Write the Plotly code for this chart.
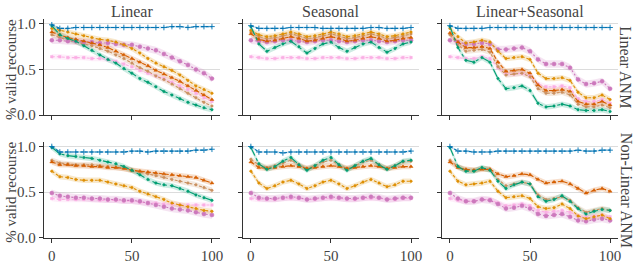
import plotly.graph_objects as go

x = [0, 5, 10, 15, 20, 25, 30, 35, 40, 45, 50, 55, 60, 65, 70, 75, 80, 85, 90, 95, 100]

col_titles = ["Linear", "Seasonal", "Linear+Seasonal"]
row_titles = ["Linear ANM", "Non-Linear ANM"]
y_ticks = [0.0, 0.5, 1.0]
y_ticktext = ["0.0", "0.5", "1.0"]
x_ticks = [0, 50, 100]

# ---- Row 1: Linear ANM ----
lin_blue = [0.99,0.95,0.95,0.96,0.96,0.96,0.96,0.96,0.96,0.96,0.96,0.96,0.96,0.96,0.96,0.97,0.97,0.96,0.97,0.97,0.97]
lin_orange = [0.95,0.93,0.91,0.89,0.87,0.85,0.83,0.82,0.80,0.77,0.73,0.68,0.62,0.57,0.53,0.49,0.44,0.38,0.32,0.28,0.24]
lin_verm = [0.91,0.88,0.85,0.83,0.81,0.79,0.77,0.74,0.70,0.66,0.62,0.58,0.54,0.49,0.45,0.41,0.37,0.32,0.27,0.22,0.17]
lin_brown = [0.88,0.85,0.82,0.80,0.78,0.76,0.73,0.70,0.66,0.62,0.57,0.52,0.48,0.43,0.39,0.34,0.29,0.24,0.19,0.14,0.10]
lin_pink = [0.64,0.64,0.63,0.63,0.63,0.62,0.62,0.61,0.59,0.56,0.53,0.49,0.46,0.43,0.40,0.36,0.32,0.28,0.24,0.19,0.15]
lin_green = [0.98,0.88,0.84,0.81,0.76,0.71,0.66,0.61,0.57,0.51,0.46,0.40,0.36,0.31,0.26,0.22,0.18,0.14,0.11,0.08,0.06]
lin_purple = [0.82,0.82,0.81,0.81,0.80,0.80,0.79,0.79,0.78,0.77,0.77,0.75,0.73,0.71,0.67,0.63,0.59,0.55,0.50,0.46,0.40]

sea_blue = [0.98,0.95,0.95,0.95,0.95,0.96,0.96,0.96,0.96,0.95,0.95,0.95,0.95,0.95,0.95,0.96,0.96,0.95,0.95,0.95,0.96]
sea_orange = [0.93,0.88,0.86,0.87,0.89,0.91,0.89,0.86,0.87,0.89,0.91,0.89,0.86,0.87,0.89,0.91,0.89,0.86,0.87,0.89,0.91]
sea_brown = [0.91,0.86,0.84,0.85,0.87,0.89,0.87,0.84,0.85,0.87,0.89,0.87,0.84,0.85,0.87,0.89,0.87,0.84,0.85,0.87,0.89]
sea_verm = [0.89,0.83,0.81,0.82,0.84,0.86,0.84,0.81,0.82,0.84,0.86,0.84,0.81,0.82,0.84,0.86,0.84,0.81,0.82,0.84,0.85]
sea_purple = [0.82,0.81,0.80,0.81,0.82,0.82,0.81,0.80,0.81,0.82,0.82,0.81,0.80,0.81,0.82,0.82,0.81,0.80,0.81,0.82,0.82]
sea_pink = [0.64,0.63,0.62,0.62,0.63,0.63,0.63,0.62,0.62,0.63,0.63,0.63,0.62,0.62,0.63,0.63,0.63,0.62,0.62,0.63,0.63]
sea_green = [0.97,0.78,0.70,0.74,0.78,0.81,0.75,0.68,0.73,0.78,0.80,0.74,0.70,0.74,0.78,0.80,0.74,0.69,0.73,0.78,0.80]

ls_blue = [0.98,0.95,0.95,0.95,0.95,0.96,0.96,0.96,0.96,0.96,0.96,0.96,0.96,0.96,0.96,0.96,0.96,0.96,0.96,0.96,0.96]
ls_orange = [0.95,0.86,0.79,0.80,0.82,0.80,0.70,0.62,0.63,0.64,0.61,0.46,0.40,0.40,0.41,0.38,0.25,0.19,0.19,0.22,0.17]
ls_purple = [0.82,0.80,0.78,0.78,0.79,0.78,0.72,0.72,0.73,0.74,0.70,0.61,0.56,0.56,0.56,0.52,0.39,0.34,0.35,0.37,0.29]
ls_verm = [0.90,0.80,0.74,0.74,0.75,0.73,0.58,0.48,0.49,0.50,0.46,0.33,0.27,0.27,0.28,0.26,0.15,0.12,0.12,0.15,0.11]
ls_brown = [0.88,0.77,0.70,0.71,0.72,0.69,0.53,0.44,0.45,0.46,0.42,0.29,0.24,0.24,0.25,0.22,0.12,0.09,0.09,0.11,0.08]
ls_pink = [0.64,0.63,0.62,0.62,0.64,0.62,0.52,0.45,0.45,0.46,0.43,0.34,0.31,0.31,0.32,0.30,0.18,0.15,0.15,0.17,0.13]
ls_green = [0.97,0.74,0.60,0.58,0.63,0.58,0.40,0.29,0.30,0.32,0.27,0.13,0.09,0.10,0.12,0.10,0.06,0.05,0.05,0.06,0.04]

# ---- Row 2: Non-Linear ANM ----
nlin_blue = [1.00,0.94,0.94,0.94,0.94,0.94,0.94,0.94,0.94,0.94,0.95,0.95,0.94,0.95,0.95,0.95,0.95,0.95,0.96,0.96,0.97]
nlin_green = [0.99,0.92,0.90,0.89,0.88,0.87,0.85,0.83,0.81,0.78,0.74,0.69,0.64,0.60,0.58,0.57,0.54,0.51,0.47,0.44,0.41]
nlin_verm = [0.83,0.80,0.80,0.79,0.79,0.78,0.78,0.77,0.77,0.76,0.74,0.73,0.72,0.71,0.70,0.69,0.68,0.67,0.66,0.63,0.60]
nlin_brown = [0.85,0.82,0.81,0.80,0.80,0.80,0.79,0.78,0.77,0.76,0.74,0.72,0.70,0.68,0.66,0.64,0.62,0.60,0.58,0.55,0.52]
nlin_orange = [0.73,0.67,0.66,0.64,0.63,0.63,0.63,0.61,0.59,0.57,0.55,0.51,0.48,0.45,0.42,0.38,0.36,0.34,0.32,0.30,0.29]
nlin_purple = [0.49,0.46,0.45,0.44,0.44,0.43,0.43,0.42,0.42,0.41,0.41,0.40,0.38,0.36,0.34,0.32,0.31,0.30,0.28,0.26,0.25]
nlin_pink = [0.43,0.42,0.42,0.42,0.42,0.42,0.41,0.41,0.41,0.40,0.40,0.39,0.38,0.38,0.37,0.37,0.36,0.36,0.36,0.36,0.36]

nsea_blue = [1.00,0.94,0.94,0.94,0.93,0.94,0.94,0.94,0.94,0.94,0.94,0.94,0.94,0.94,0.94,0.94,0.94,0.94,0.94,0.94,0.95]
nsea_green = [0.99,0.81,0.75,0.78,0.84,0.88,0.80,0.74,0.79,0.85,0.88,0.80,0.74,0.79,0.84,0.87,0.80,0.75,0.79,0.84,0.85]
nsea_brown = [0.86,0.80,0.77,0.79,0.82,0.85,0.80,0.76,0.79,0.83,0.85,0.80,0.76,0.79,0.83,0.85,0.80,0.76,0.79,0.83,0.84]
nsea_verm = [0.83,0.77,0.76,0.77,0.78,0.79,0.78,0.76,0.77,0.78,0.79,0.78,0.76,0.77,0.78,0.79,0.78,0.76,0.77,0.78,0.78]
nsea_orange = [0.73,0.60,0.54,0.57,0.61,0.63,0.59,0.54,0.57,0.61,0.63,0.59,0.54,0.57,0.61,0.64,0.60,0.56,0.58,0.62,0.62]
nsea_purple = [0.49,0.44,0.43,0.43,0.44,0.45,0.44,0.42,0.43,0.44,0.45,0.44,0.43,0.43,0.44,0.45,0.44,0.42,0.43,0.44,0.44]
nsea_pink = [0.43,0.42,0.42,0.42,0.43,0.43,0.43,0.42,0.42,0.43,0.43,0.43,0.42,0.42,0.43,0.43,0.43,0.42,0.42,0.43,0.43]

nls_blue = [1.00,0.95,0.95,0.94,0.94,0.94,0.95,0.95,0.95,0.95,0.95,0.95,0.95,0.95,0.95,0.95,0.96,0.95,0.95,0.96,0.96]
nls_green = [0.99,0.78,0.73,0.73,0.77,0.74,0.62,0.54,0.58,0.61,0.59,0.45,0.40,0.42,0.46,0.40,0.32,0.26,0.29,0.31,0.30]
nls_verm = [0.83,0.77,0.75,0.74,0.75,0.75,0.70,0.67,0.68,0.70,0.69,0.64,0.60,0.61,0.62,0.59,0.54,0.49,0.52,0.54,0.51]
nls_brown = [0.85,0.78,0.74,0.74,0.76,0.75,0.64,0.57,0.59,0.61,0.59,0.47,0.42,0.43,0.45,0.41,0.33,0.28,0.30,0.32,0.30]
nls_orange = [0.73,0.62,0.58,0.59,0.60,0.62,0.51,0.44,0.45,0.46,0.43,0.34,0.32,0.33,0.37,0.32,0.24,0.21,0.23,0.25,0.21]
nls_purple = [0.49,0.43,0.40,0.40,0.42,0.41,0.37,0.32,0.33,0.35,0.32,0.26,0.24,0.25,0.26,0.23,0.19,0.18,0.20,0.21,0.19]
nls_pink = [0.43,0.41,0.40,0.40,0.42,0.42,0.38,0.35,0.36,0.37,0.35,0.30,0.28,0.29,0.30,0.28,0.24,0.23,0.24,0.25,0.23]

# confidence half-widths per series
ci_blue, ci_orange, ci_green, ci_verm, ci_purple, ci_brown, ci_pink = 0.01, 0.03, 0.03, 0.03, 0.04, 0.03, 0.03

panels = [
    [lin_blue, lin_orange, lin_green, lin_verm, lin_purple, lin_brown, lin_pink],
    [sea_blue, sea_orange, sea_green, sea_verm, sea_purple, sea_brown, sea_pink],
    [ls_blue, ls_orange, ls_green, ls_verm, ls_purple, ls_brown, ls_pink],
    [nlin_blue, nlin_orange, nlin_green, nlin_verm, nlin_purple, nlin_brown, nlin_pink],
    [nsea_blue, nsea_orange, nsea_green, nsea_verm, nsea_purple, nsea_brown, nsea_pink],
    [nls_blue, nls_orange, nls_green, nls_verm, nls_purple, nls_brown, nls_pink],
]
cis = [ci_blue, ci_orange, ci_green, ci_verm, ci_purple, ci_brown, ci_pink]

styles = [
    dict(color="#0173b2", rgb="1,115,178", dash="3px,2px", symbol="cross-thin", size=4, lw=0.9),
    dict(color="#de8f05", rgb="222,143,5", dash="3px,2px", symbol="circle", size=2.5, lw=0.5),
    dict(color="#029e73", rgb="2,158,115", dash="dashdot", symbol="circle", size=2.5, lw=0.5),
    dict(color="#d55e00", rgb="213,94,0", dash="4px,2px", symbol="triangle-up", size=3.5, lw=0.5),
    dict(color="#cc78bc", rgb="204,120,188", dash="2px,2px", symbol="circle", size=4, lw=0.5),
    dict(color="#ca9161", rgb="202,145,97", dash="3px,2px", symbol="circle", size=2.5, lw=0.5),
    dict(color="#fbafe4", rgb="251,175,228", dash="3px,2px", symbol="square", size=2.5, lw=0.5),
]
draw_order = [6, 5, 4, 1, 3, 2, 0]

W, H = 640, 264
xdom_px = [(44, 221), (244, 421), (444, 621)]
ydom_px = [(17, 117), (145, 245)]  # top, bottom in px

fig = go.Figure()
layout = {}
for p in range(6):
    r, c = divmod(p, 3)
    idx = p + 1
    xa = "x" if idx == 1 else f"x{idx}"
    ya = "y" if idx == 1 else f"y{idx}"
    series = panels[p]
    for s in draw_order:
        st = styles[s]
        vals = series[s]
        ci = cis[s]
        up = [v + ci for v in vals]
        lo = [v - ci for v in vals]
        fig.add_trace(go.Scatter(x=x + x[::-1], y=up + lo[::-1], fill="toself",
                                 fillcolor=f"rgba({st['rgb']},0.2)", line=dict(width=0),
                                 mode="lines", hoverinfo="skip", showlegend=False,
                                 xaxis=xa, yaxis=ya))
    for s in draw_order:
        st = styles[s]
        fig.add_trace(go.Scatter(x=x, y=series[s], mode="lines+markers",
                                 line=dict(color=st["color"], width=1.1, dash=st["dash"]),
                                 marker=dict(symbol=st["symbol"], size=st["size"], color=st["color"],
                                             line=dict(width=st["lw"], color=st["color"])),
                                 showlegend=False, xaxis=xa, yaxis=ya))
    x0, x1 = xdom_px[c]
    t, b = ydom_px[r]
    layout["xaxis" if idx == 1 else f"xaxis{idx}"] = dict(
        domain=[x0 / W, x1 / W], range=[-5, 105], anchor=ya,
        showline=True, linecolor="#333", linewidth=1.3, ticks="outside", ticklen=4,
        tickcolor="#333", tickvals=x_ticks, showticklabels=(r == 1), showgrid=False,
        zeroline=False, tickfont=dict(size=15, color="#444"))
    layout["yaxis" if idx == 1 else f"yaxis{idx}"] = dict(
        domain=[1 - b / H, 1 - t / H], range=[0, 1.05], anchor=xa,
        showline=True, linecolor="#333", linewidth=1.3, ticks="outside", ticklen=4,
        tickcolor="#333", tickvals=y_ticks, ticktext=y_ticktext, showticklabels=(c == 0),
        showgrid=True, gridcolor="#dcdcdc", gridwidth=1, zeroline=False,
        tickfont=dict(size=15, color="#444"))

annotations = []
for c in range(3):
    x0, x1 = xdom_px[c]
    annotations.append(dict(text=col_titles[c], x=(x0 + x1) / 2 / W, y=1 - 9 / H,
                            xref="paper", yref="paper", showarrow=False,
                            xanchor="center", yanchor="middle",
                            font=dict(size=16, color="#444")))
for r in range(2):
    t, b = ydom_px[r]
    annotations.append(dict(text=row_titles[r], x=629 / W, y=1 - (t + b) / 2 / H,
                            xref="paper", yref="paper", showarrow=False, textangle=90,
                            xanchor="center", yanchor="middle",
                            font=dict(size=16, color="#444")))
    annotations.append(dict(text="% valid recourse", x=11 / W, y=1 - (t + b + 4) / 2 / H,
                            xref="paper", yref="paper", showarrow=False, textangle=-90,
                            xanchor="center", yanchor="middle",
                            font=dict(size=15, color="#444")))

fig.update_layout(width=W, height=H, margin=dict(l=0, r=0, t=0, b=0),
                  paper_bgcolor="white", plot_bgcolor="white",
                  font=dict(family="Liberation Serif, serif", color="#444"),
                  annotations=annotations, **layout)
fig.write_html("out.html", config={"displayModeBar": False},
               post_script="document.body.style.margin='0';document.body.style.padding='0';document.documentElement.style.overflow='hidden';")
